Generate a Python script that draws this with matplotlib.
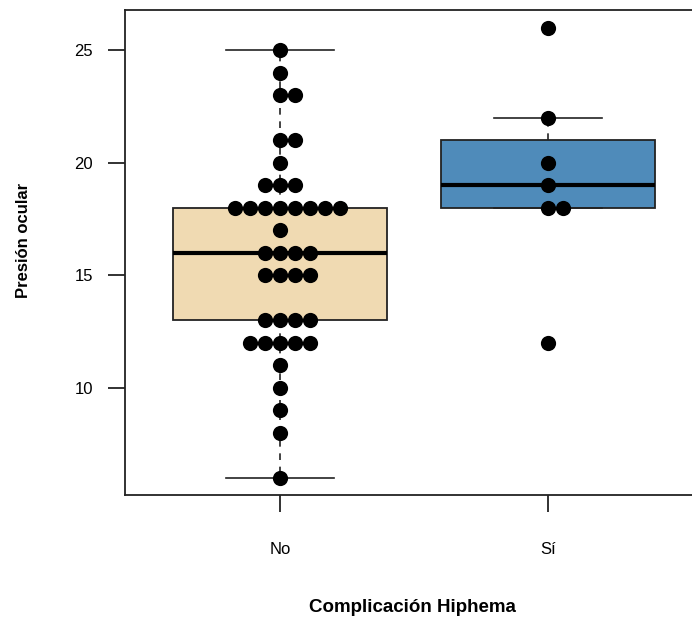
import matplotlib
matplotlib.use("Agg")
import matplotlib.pyplot as plt
import numpy as np
from collections import Counter

plt.rcParams['font.family'] = ['Liberation Sans', 'DejaVu Sans']

# Data
categories = ["No", "Sí"]
presion_no = [25, 24, 23, 23, 21, 21, 20, 19, 19, 19,
              18, 18, 18, 18, 18, 18, 18, 18, 17,
              16, 16, 16, 16, 15, 15, 15, 15,
              13, 13, 13, 13, 12, 12, 12, 12, 12,
              11, 10, 9, 8, 6]
presion_si = [26, 22, 20, 19, 18, 18, 12]
yticks = [10, 15, 20, 25]
box_colors = ["#F0DAB2", "#4F8BBA"]

groups = [presion_no, presion_si]

fig = plt.figure(figsize=(6.92, 6.19), dpi=100)
ax = fig.add_axes([125/692, (619-495)/619, (703-125)/692, (495-10)/619])

bp = ax.boxplot(groups, positions=[1, 2], widths=0.8, whis=1.5,
                showfliers=False, patch_artist=True, manage_ticks=False,
                boxprops=dict(linewidth=1.3, edgecolor="#222222"),
                medianprops=dict(color="black", linewidth=3),
                whiskerprops=dict(linestyle=(0, (4, 4)), linewidth=1.2, color="#222222"),
                capprops=dict(linewidth=1.2, color="#222222"),
                capwidths=0.4)
for patch, c in zip(bp['boxes'], box_colors):
    patch.set_facecolor(c)

# beeswarm-like layout: 0, +1, -1, +2, -2, ...
spacing = 0.056
for pos, vals in zip([1, 2], groups):
    cnt = Counter(vals)
    xs, ys = [], []
    for v, n in cnt.items():
        offs = []
        for k in range(n):
            if k == 0:
                offs.append(0)
            elif k % 2 == 1:
                offs.append((k + 1) // 2)
            else:
                offs.append(-(k // 2))
        for o in offs:
            xs.append(pos + o * spacing)
            ys.append(v)
    ax.scatter(xs, ys, s=120, color="black", zorder=5, linewidths=0)

ax.set_xlim(0.4216, 2.5784)
ax.set_ylim(5.24, 26.78)
ax.set_yticks(yticks)
ax.set_yticklabels([str(t) for t in yticks], fontsize=12)
ax.set_xticks([1, 2])
ax.set_xticklabels(categories, fontsize=12)
ax.tick_params(axis='y', length=12, width=1.3, pad=11, color="#222222")
ax.tick_params(axis='x', length=12, width=1.3, pad=22, color="#222222")
for s in ['left', 'bottom', 'top']:
    ax.spines[s].set_linewidth(1.3)
    ax.spines[s].set_color("#222222")
ax.spines['right'].set_visible(False)

fig.text(412/692, 1 - 607/619, "Complicación Hiphema", fontsize=13.5,
         fontweight='bold', ha='center', va='center')
fig.text(24/692, 1 - 240/619, "Presión ocular", fontsize=12,
         fontweight='bold', ha='center', va='center', rotation=90)

fig.savefig("out.png", dpi=100)
